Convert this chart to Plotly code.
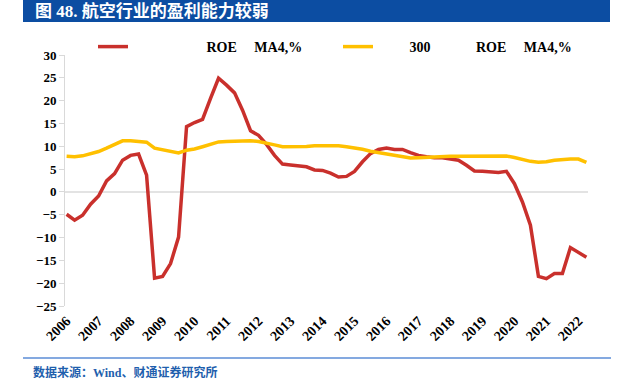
import plotly.graph_objects as go

# ---- data ----
years = list(range(2006, 2023))
quarters = [f"{y}Q{q}" for y in years for q in range(1, 5)][:66]  # 2006Q1 .. 2022Q2

airline_roe = [-4.9, -6.2, -5.1, -2.7, -0.9, 2.4, 4.0, 6.95, 8.0, 8.3,
               3.7, -18.9, -18.5, -15.7, -9.9, 14.3, 15.2, 15.9, 20.5, 24.9,
               23.4, 21.7, 17.9, 13.4, 12.4, 10.4, 8.0, 6.1, 5.9, 5.7,
               5.5, 4.8, 4.7, 4.1, 3.25, 3.4, 4.5, 6.6, 8.4, 9.3,
               9.6, 9.3, 9.3, 8.6, 8.0, 7.7, 7.5, 7.5, 7.3, 6.95,
               5.85, 4.6, 4.5, 4.4, 4.25, 4.5, 1.8, -2.2, -7.3, -18.5,
               -19.0, -17.9, -17.9, -12.2, -13.2, -14.3]

hs300_roe = [7.8, 7.7, 7.9, 8.4, 8.85, 9.6, 10.3, 11.2, 11.2, 11.1,
             10.9, 9.6, 9.3, 8.85, 8.55, 9.15, 9.4, 9.9, 10.45, 10.95,
             11.05, 11.1, 11.2, 11.2, 11.05, 10.75, 10.3, 9.9, 9.9, 9.9,
             9.95, 10.1, 10.1, 10.1, 10.1, 9.9, 9.65, 9.35, 8.9, 8.6,
             8.4, 8.05, 7.7, 7.45, 7.5, 7.6, 7.7, 7.75, 7.8, 7.8,
             7.8, 7.8, 7.8, 7.8, 7.85, 7.85, 7.55, 7.1, 6.7, 6.5,
             6.6, 6.95, 7.15, 7.2, 7.2, 6.45]

tick_vals = [quarters[i] for i in range(0, 66, 4)]
tick_text = [str(y) for y in years]
y_ticks = list(range(-25, 31, 5))

NB = "\u00a0"
name_airline = NB * 21 + "ROE" + NB * 5 + "MA4,%"
name_hs300 = NB * 9 + "300" + NB * 13 + "ROE" + NB * 5 + "MA4,%"

# ---- geometry helpers (pixel -> paper) ----
W, H = 628, 386
ML, MR, MT, MB = 65, 40, 55, 80
PW, PH = W - ML - MR, H - MT - MB


def px(x):
    return (x - ML) / PW


def py(y):
    return (H - MB - y) / PH


serif = "Liberation Serif, Times New Roman, Noto Sans CJK SC, serif"
bold13 = dict(family=serif, size=13, color="black", weight="bold")
bold14 = dict(family=serif, size=14, color="black", weight="bold")

fig = go.Figure()
fig.add_trace(go.Scatter(x=quarters, y=airline_roe, mode="lines", name=name_airline,
                         line=dict(color="#C9302C", width=3.5)))
fig.add_trace(go.Scatter(x=quarters, y=hs300_roe, mode="lines", name=name_hs300,
                         line=dict(color="#FFC000", width=3.5)))

fig.update_layout(
    width=W, height=H,
    margin=dict(l=ML, r=MR, t=MT, b=MB, autoexpand=False),
    paper_bgcolor="white", plot_bgcolor="white",
    font=bold13,
    showlegend=True,
    legend=dict(orientation="h", xref="container", yref="container",
                x=93 / W, xanchor="left", y=1 - 47 / H, yanchor="middle",
                entrywidth=200, font=bold14,
                bgcolor="rgba(0,0,0,0)", itemclick=False),
    xaxis=dict(type="category", categoryorder="array", categoryarray=quarters,
               range=[-0.2, 65.2], tickmode="array", tickvals=tick_vals, ticktext=tick_text,
               tickangle=-45, showgrid=False, showline=False, zeroline=False, ticks="",
               ticklabelstandoff=3, tickfont=bold14),
    yaxis=dict(range=[-25, 30], tickmode="array", tickvals=y_ticks,
               showgrid=False, showline=True, linecolor="#D9D9D9", linewidth=1,
               ticks="outside", ticklen=5, tickcolor="#D9D9D9",
               zeroline=True, zerolinecolor="#E3E3E3", zerolinewidth=2,
               tickfont=bold13),
)

# title bar
fig.add_shape(type="rect", xref="paper", yref="paper",
              x0=px(23), x1=px(610), y0=py(22), y1=py(0),
              fillcolor="#0C4DA2", line=dict(width=0), layer="above")
fig.add_annotation(xref="paper", yref="paper", x=px(33), y=py(11),
                   xanchor="left", yanchor="middle", showarrow=False,
                   text="<b>图 48. 航空行业的盈利能力较弱</b>",
                   font=dict(family=serif, size=17, color="white", weight="bold"))
# footer line and source
fig.add_shape(type="line", xref="paper", yref="paper",
              x0=px(23), x1=px(611), y0=py(358), y1=py(358),
              line=dict(color="#5B8DD6", width=1.5))
fig.add_annotation(xref="paper", yref="paper", x=px(31), y=py(372),
                   xanchor="left", yanchor="middle", showarrow=False,
                   text="<b>数据来源：Wind、财通证券研究所</b>",
                   font=dict(family=serif, size=12, color="#1F5FAD", weight="bold"))

fig.write_html("out.html", config={"displayModeBar": False},
               post_script="document.body.style.margin='0';document.body.style.overflow='hidden';")
